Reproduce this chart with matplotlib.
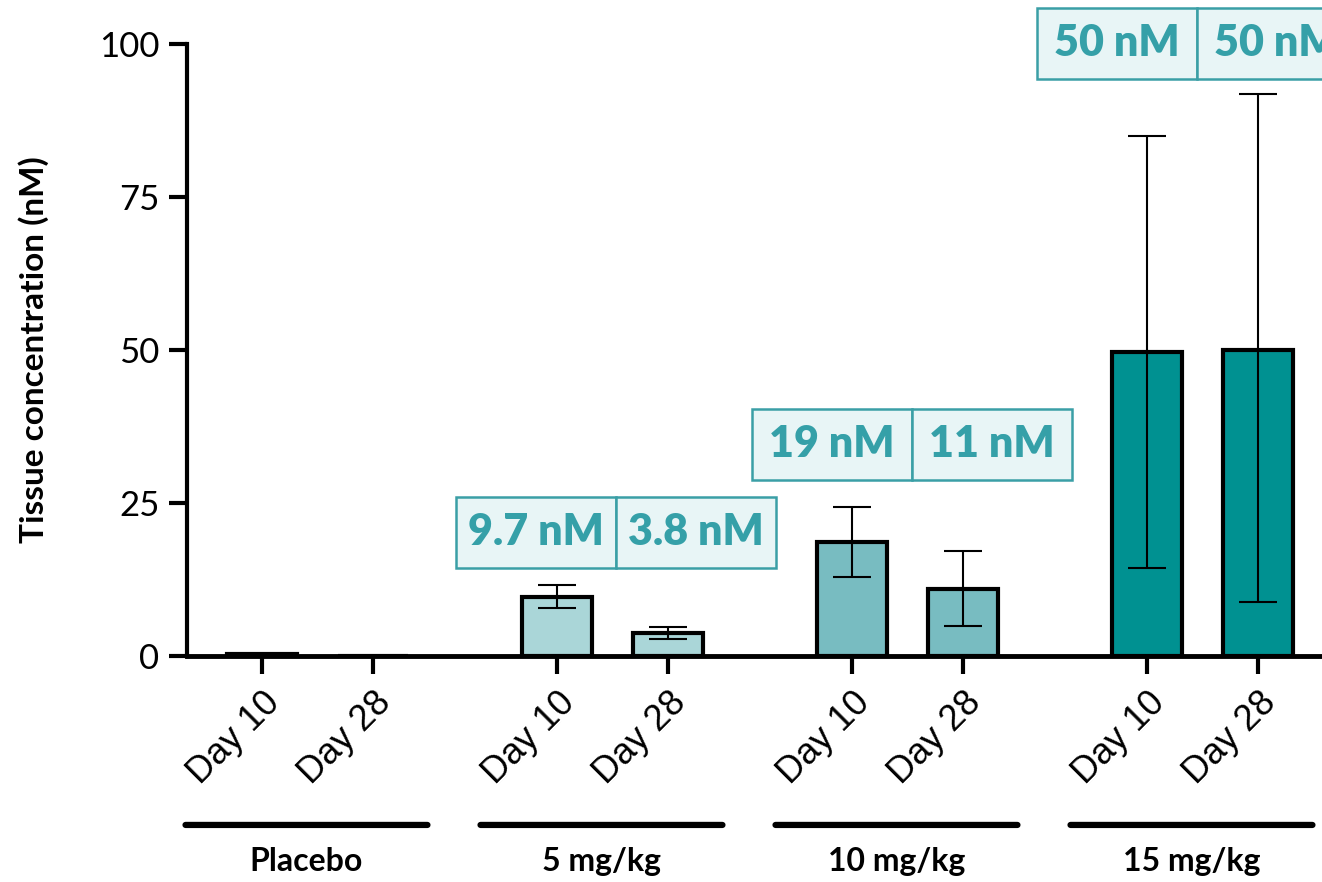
import matplotlib.pyplot as plt
from matplotlib.patches import Rectangle
import numpy as np

# tissue concentration by dose group and day
groups = ['Placebo', '5 mg/kg', '10 mg/kg', '15 mg/kg']
days = ['Day 10', 'Day 28']
means = [[0.3, 0.0], [9.7, 3.8], [18.6, 10.9], [49.6, 50.0]]
# lower / upper ends of the error bars (placebo has none)
err_low = [None, [7.8, 2.8], [12.9, 4.9], [14.4, 8.8]]
err_high = [None, [11.6, 4.7], [24.3, 17.2], [85.0, 91.8]]
colors = ['#aad6d8', '#aad6d8', '#78bcc1', '#009191']

plt.rcParams['font.family'] = ['Lato', 'DejaVu Sans']

fig = plt.figure(figsize=(13.22, 8.82), dpi=100)
ax = fig.add_axes([0.1415, 0.2562, 0.8585, 0.6939])

group_step = 2.658
width = 0.63
xpos, heights, cols, ticklabels = [], [], [], []
for g in range(len(groups)):
    for d in range(len(days)):
        x = g * group_step + d
        xpos.append(x)
        heights.append(means[g][d])
        cols.append(colors[g])
        ticklabels.append(days[d])
        if err_low[g] is not None:
            lo = means[g][d] - err_low[g][d]
            hi = err_high[g][d] - means[g][d]
            ax.errorbar(x, means[g][d], yerr=[[lo], [hi]], fmt='none', ecolor='black',
                        elinewidth=1.5, capsize=14, capthick=1.5, zorder=3)

ax.bar(xpos, heights, width=width, color=cols, edgecolor='black', linewidth=3, zorder=2)

ax.set_xlim(-0.676, 9.55)
ax.set_ylim(0, 100)
ax.set_yticks([0, 25, 50, 75, 100])
ax.set_xticks(xpos)
ax.set_xticklabels(ticklabels, rotation=45, ha='right', rotation_mode='anchor',
                   family=['Liberation Sans', 'DejaVu Sans'], fontsize=26)
ax.tick_params(axis='y', labelsize=25, width=3, length=13, pad=7, labelcolor='black')
ax.tick_params(axis='x', width=3, length=13, pad=8)
for s in ['top', 'right']:
    ax.spines[s].set_visible(False)
ax.spines['left'].set_linewidth(3)
ax.spines['bottom'].set_linewidth(3.5)
ax.set_ylabel('Tissue concentration (nM)', fontsize=24, fontweight='bold', labelpad=36)

# value boxes over each dose group
box_w, box_h = 1.44, 11.6
box_y = [None, 14.4, 28.8, 94.3]
box_shift = [0, 0.03, 0.04, -0.05]
for g in range(1, len(groups)):
    cx = g * group_step + 0.5 + box_shift[g]
    for d in range(len(days)):
        x0 = cx - box_w if d == 0 else cx
        ax.add_patch(Rectangle((x0, box_y[g]), box_w, box_h, facecolor='#e8f5f6',
                               edgecolor='#3a9fa6', linewidth=1.8, clip_on=False, zorder=4))
        ax.text(x0 + box_w / 2, box_y[g] + box_h / 2, '{:.2g} nM'.format(means[g][d]),
                ha='center', va='center', fontsize=31, fontweight='heavy',
                color='#35a0a8', clip_on=False, zorder=5)

# group brackets and names under the day labels
for g, name in enumerate(groups):
    cx = g * group_step + 0.5 - 0.1
    ax.annotate('', xy=(cx - 1.09, -27.6), xytext=(cx + 1.09, -27.6),
                xycoords='data', annotation_clip=False,
                arrowprops=dict(arrowstyle='-', lw=4.5, capstyle='round', color='black',
                                shrinkA=0, shrinkB=0))
    ax.text(cx, -33.6, name, ha='center', va='center', fontsize=23,
            fontweight='bold', clip_on=False)

fig.savefig('out.png', dpi=100)
